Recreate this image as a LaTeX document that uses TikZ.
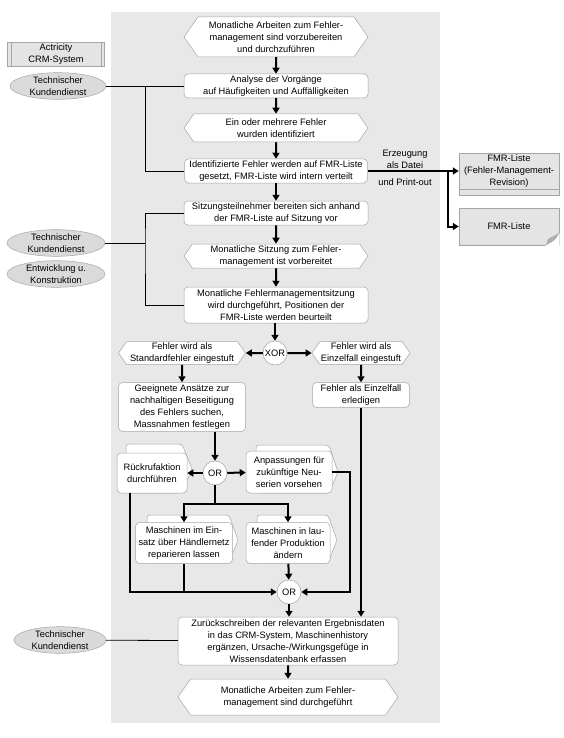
\documentclass[tikz,border=0pt]{standalone}
\usepackage{fontspec}
\setmainfont{Liberation Sans}
\usetikzlibrary{arrows.meta,shapes.geometric,shapes.symbols}
\definecolor{bggray}{RGB}{232,232,232}
\definecolor{nodegray}{RGB}{165,165,165}
\definecolor{orggray}{RGB}{218,218,218}
\definecolor{docgray}{RGB}{228,228,228}
\definecolor{foldgray}{RGB}{175,175,175}
\begin{document}
\begin{tikzpicture}[x=1pt,y=-1pt,line width=.5pt,font=\fontsize{9.3}{12}\selectfont,
  func/.style={draw=nodegray,fill=white,rounded corners=4pt,align=center,inner sep=1pt},
  evt/.style={signal,signal to=west and east,signal pointer angle=110,draw=nodegray,fill=white,align=center,inner sep=1pt},
  conn/.style={circle,draw=nodegray,fill=white,minimum size=24pt,inner sep=0pt},
  orgunit/.style={ellipse,draw=nodegray,fill=orggray,align=center,inner sep=0pt},
  doc/.style={draw=nodegray,fill=docgray,align=center,inner sep=1pt},
  sheet/.style={draw=nodegray,fill=white,rounded corners=3pt},
  flow/.style={line width=2pt,-{Triangle[length=6pt,width=7pt]}},
  flowline/.style={line width=2pt},
  link/.style={line width=.8pt}]
\path[use as bounding box] (0,0) rectangle (563,738);
\fill[bggray] (111,12) rectangle (440,723);
% process chain
\node[evt,minimum width=184pt,minimum height=40pt] (start) at (276,37) {Monatliche Arbeiten zum Fehler-\\management sind vorzubereiten\\und durchzuführen};
\node[func,minimum width=184pt,minimum height=24pt] (analyse) at (276,86) {Analyse der Vorgänge\\auf Häufigkeiten und Auffälligkeiten};
\node[evt,minimum width=184pt,minimum height=28pt] (fehlerid) at (276,128) {Ein oder mehrere Fehler\\wurden identifiziert};
\node[func,minimum width=183pt,minimum height=24pt] (fmrliste) at (276,171) {Identifizierte Fehler werden auf FMR-Liste\\gesetzt, FMR-Liste wird intern verteilt};
\node[func,minimum width=184pt,minimum height=24pt] (sitzvor) at (276,213) {Sitzungsteilnehmer bereiten sich anhand\\der FMR-Liste auf Sitzung vor};
\node[evt,minimum width=184pt,minimum height=24pt] (sitzbereit) at (276,256) {Monatliche Sitzung zum Fehler-\\management ist vorbereitet};
\node[func,minimum width=184pt,minimum height=36pt] (sitzung) at (276,305) {Monatliche Fehlermanagementsitzung\\wird durchgeführt, Positionen der\\FMR-Liste werden beurteilt};
\node[conn] (xor) at (275,353) {XOR};
\node[evt,minimum width=127pt,minimum height=23pt] (standard) at (182,353) {Fehler wird als\\Standardfehler eingestuft};
\node[evt,minimum width=97pt,minimum height=23pt] (einzel) at (361,353) {Fehler wird als\\Einzelfall eingestuft};
\node[func,minimum width=127pt,minimum height=49pt] (ansatz) at (182,407) {Geeignete Ansätze zur\\nachhaltigen Beseitigung\\des Fehlers suchen,\\Massnahmen festlegen};
\node[func,minimum width=97pt,minimum height=25pt] (erledigen) at (361,395) {Fehler als Einzelfall\\erledigen};
\node[conn] (ora) at (215,473) {OR};
\draw[sheet] (126,493) -- (126,444) -- (182,444) -- (192,469) -- (182,493) -- cycle;
\draw[sheet] (256,493) -- (256,445) -- (329,445) -- (338,472) -- (329,493) -- cycle;
\draw[sheet] (147,563) -- (147,515) -- (229,515) -- (238,540) -- (229,563) -- cycle;
\draw[sheet] (257,563) -- (257,515) -- (328,515) -- (337,540) -- (328,563) -- cycle;
\node[func,minimum width=70pt,minimum height=40pt] (rueckruf) at (152,473) {Rückrufaktion\\durchführen};
\node[func,minimum width=86pt,minimum height=42pt] (anpassung) at (289,472) {Anpassungen für\\zukünftige Neu-\\serien vorsehen};
\node[func,minimum width=97pt,minimum height=41pt] (haendler) at (184,543) {Maschinen im Ein-\\satz über Händlernetz\\reparieren lassen};
\node[func,minimum width=84pt,minimum height=41pt] (produktion) at (288,543) {Maschinen in lau-\\fender Produktion\\ändern};
\node[conn] (orb) at (289,592) {OR};
\node[func,minimum width=220pt,minimum height=48pt] (zurueck) at (288,641) {Zurückschreiben der relevanten Ergebnisdaten\\in das CRM-System, Maschinenhistory\\ergänzen, Ursache-/Wirkungsgefüge in\\Wissensdatenbank erfassen};
\node[evt,minimum width=220pt,minimum height=36pt] (ende) at (288,697) {Monatliche Arbeiten zum Fehler-\\management sind durchgeführt};
% org units and systems
\node[doc,minimum width=97pt,minimum height=24pt] (crm) at (56,54) {Actricity\\CRM-System};
\draw[nodegray] ([xshift=4pt]crm.north west) -- ([xshift=4pt]crm.south west);
\draw[nodegray] ([xshift=-4pt]crm.north east) -- ([xshift=-4pt]crm.south east);
\node[orgunit,minimum width=96pt,minimum height=26pt] (kd1) at (58,86) {Technischer\\Kundendienst};
\node[orgunit,minimum width=98pt,minimum height=24pt] (kd2) at (56,243) {Technischer\\Kundendienst};
\node[orgunit,minimum width=98pt,minimum height=24pt] (entw) at (56,274) {Entwicklung u.\\Konstruktion};
\node[orgunit,minimum width=92pt,minimum height=26pt] (kd3) at (60,640) {Technischer\\Kundendienst};
% output documents
\node[doc,minimum width=100pt,minimum height=36pt] (fmrrev) at (509,171) {FMR-Liste\\(Fehler-Management-\\Revision)};
\draw[nodegray,fill=docgray] (fmrrev.south west) rectangle ++(100,6);
\node[doc,minimum width=100pt,minimum height=37pt] (fmrdoc) at (509,226.5) {FMR-Liste};
\fill[white] (559.5,233) -- (559.5,246) -- (545,246) -- cycle;
\draw[nodegray] (559,233) .. controls (555,240) .. (546,245) -- (fmrdoc.south west);
\fill[foldgray] (559,233) .. controls (555,240) .. (546,245) -- (548,239) -- cycle;
\node (erzeug) at (405,159) [align=center] {Erzeugung\\als Datei};
\node (print) at (405,182) {und Print-out};
\coordinate (split) at (448,171);
% control flow
\draw[flow] (start) -- (analyse);
\draw[flow] (analyse) -- (fehlerid);
\draw[flow] (fehlerid) -- (fmrliste);
\draw[flow] (fmrliste) -- (sitzvor);
\draw[flow] (sitzvor) -- (sitzbereit);
\draw[flow] (sitzbereit) -- (sitzung);
\draw[flow] (sitzung.south -| xor) -- (xor);
\draw[flow] (fmrliste.east) -- (fmrrev.west);
\draw[flow] (split) |- (fmrdoc.west);
\draw[flow] (xor) -- (standard);
\draw[flow] (xor) -- (einzel);
\draw[flow] (standard) -- (ansatz);
\draw[flow] (einzel) -- (erledigen);
\draw[flow] (ansatz.south -| ora) -- (ora);
\draw[flow] (ora) -- (rueckruf);
\draw[flow] (ora) -- (anpassung);
\coordinate (split2) at (215,504);
\draw[flowline] (ora) -- (split2);
\draw[flow] (split2) -| (haendler.north);
\draw[flow] (split2) -| (produktion.north);
\draw[flow] (produktion) -- (orb);
\draw[flow] ([xshift=-22pt]rueckruf.south) |- (orb.west);
\draw[flowline] (haendler.south) -- (haendler.south |- orb);
\draw[flow] (anpassung.east) -- ++(18,0) |- (orb.east);
\draw[flow] (erledigen.south) -- (erledigen.south |- zurueck.north);
\draw[flow] (orb) -- (orb |- zurueck.north);
\draw[flow] (zurueck) -- (ende);
% assignments
\coordinate (j1) at (145,86);
\coordinate (j2) at (145,243);
\draw[link] (kd1) -- (analyse);
\draw[link] (j1) |- (fmrliste.west);
\draw[link] (kd2) -- (j2);
\draw[link] (sitzvor.west) -| (j2) |- (sitzung.west);
\draw[link] (kd3) -- (zurueck);
\end{tikzpicture}
\end{document}
